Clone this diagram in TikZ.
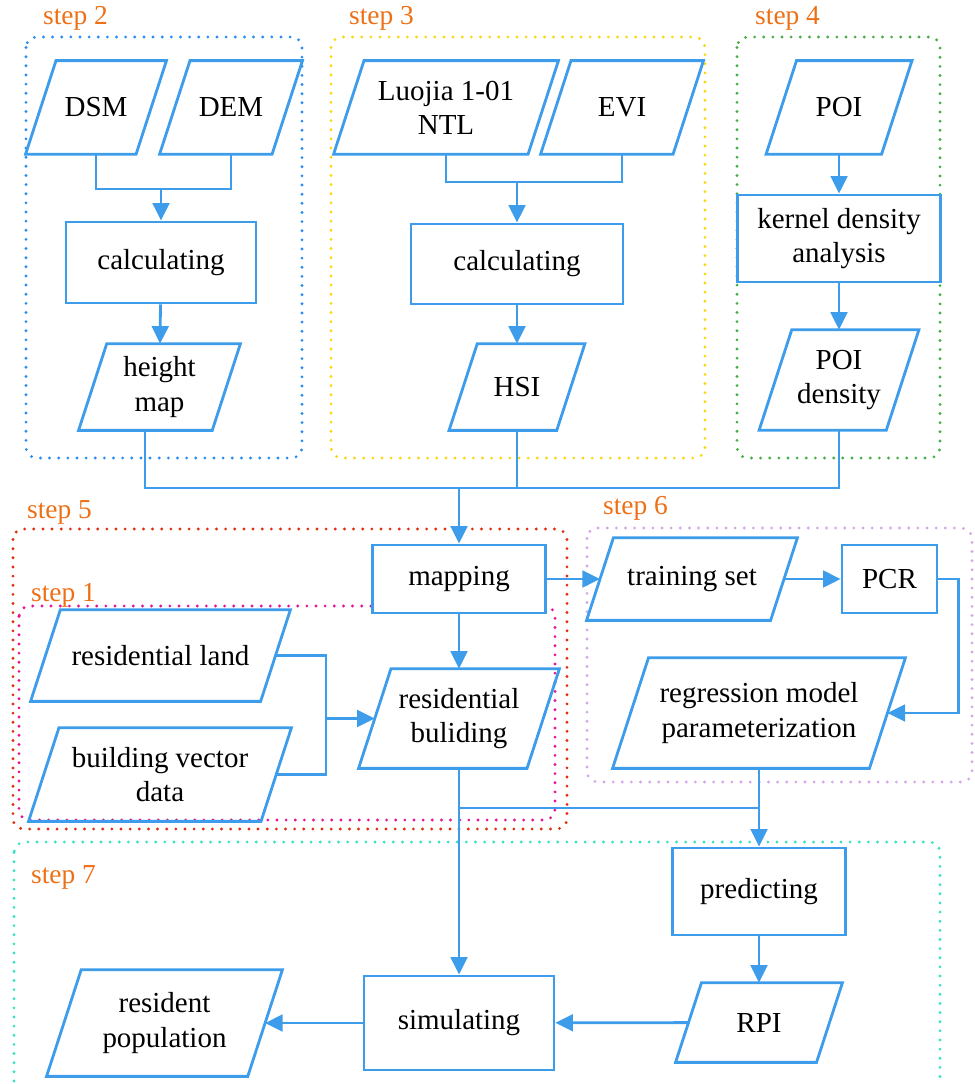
\documentclass[tikz,border=0pt]{standalone}
\usepackage{fontspec}
\setmainfont{Liberation Serif}
\usetikzlibrary{arrows.meta,calc,backgrounds}

\definecolor{flowblue}{RGB}{62,157,235}
\definecolor{steporange}{RGB}{238,112,22}
\definecolor{boxblue}{RGB}{40,140,240}
\definecolor{boxyellow}{RGB}{250,215,20}
\definecolor{boxgreen}{RGB}{70,175,70}
\definecolor{boxred}{RGB}{225,45,10}
\definecolor{boxmagenta}{RGB}{230,20,150}
\definecolor{boxlilac}{RGB}{215,165,235}
\definecolor{boxteal}{RGB}{60,225,195}

\begin{document}
\begin{tikzpicture}[x=0.02cm, y=-0.02cm,
          every node/.style={font=\fontsize{16.5}{19.5}\selectfont, align=center},
          proc/.style={draw=flowblue, fill=white, line width=1.6pt, rectangle, inner sep=2pt},
          data/.style={rectangle, inner sep=2pt},
          databorder/.style={draw=flowblue, line width=1.6pt},
          line/.style={draw=flowblue, line width=1.6pt},
          arrow/.style={line, -{Triangle[length=10pt, width=9.5pt]}},
          stepbox/.style={line width=1.8pt, line cap=round,
            dash pattern=on 0pt off 5.2pt, rounded corners=6pt},
          steplabel/.style={anchor=west, text=steporange,
            font=\fontsize{15.6}{18}\selectfont}
        ]
        \useasboundingbox (0,0) rectangle (974,1084);

        % Step labels
        \node[steplabel] (lbl2) at (37,18) {step 2};
        \node[steplabel] (lbl3) at (343,18) {step 3};
        \node[steplabel] (lbl4) at (749,18) {step 4};
        \node[steplabel] (lbl5) at (21,512) {step 5};
        \node[steplabel] (lbl1) at (25,595) {step 1};
        \node[steplabel] (lbl6) at (597,508) {step 6};
        \node[steplabel] (lbl7) at (25,877) {step 7};

        % Step 2
        \node[data, minimum width=2.196cm, minimum height=1.86cm] (dsm) at (96,107.5) {DSM};
        \node[data, minimum width=2.236cm, minimum height=1.86cm] (dem) at (231,107.5) {DEM};
        \node[proc, minimum width=3.8cm, minimum height=1.62cm] (calcA) at (161,262.5) {calculating};
        \node[data, minimum width=2.66cm, minimum height=1.72cm] (hmap) at (159.5,387) {height\\map};

        % Step 3
        \node[data, minimum width=3.876cm, minimum height=1.86cm] (ntl) at (446,107.5) {Luojia 1-01\\NTL};
        \node[data, minimum width=2.636cm, minimum height=1.86cm] (evi) at (622,107.5) {EVI};
        \node[proc, minimum width=4.24cm, minimum height=1.6cm] (calcB) at (517,264) {calculating};
        \node[data, minimum width=2.14cm, minimum height=1.72cm] (hsi) at (517,387) {HSI};

        % Step 4
        \node[data, minimum width=2.296cm, minimum height=1.86cm] (poi) at (839,107.5) {POI};
        \node[proc, minimum width=4.06cm, minimum height=1.74cm] (kda) at (839,238.5) {kernel density\\analysis};
        \node[data, minimum width=2.53cm, minimum height=2cm] (pden) at (839,380) {POI\\density};

        % Step 5 and step 1
        \node[proc, minimum width=3.46cm, minimum height=1.36cm] (mapping) at (459,579) {mapping};
        \node[data, minimum width=4.588cm, minimum height=1.82cm] (rland) at (160.5,655.5) {residential land};
        \node[data, minimum width=4.636cm, minimum height=1.86cm] (bvec) at (160,774.5) {building vector\\data};
        \node[data, minimum width=3.356cm, minimum height=1.98cm] (resb) at (459,718.5) {residential\\buliding};

        % Step 6
        \node[data, minimum width=3.667cm, minimum height=1.64cm] (train) at (692,579) {training set};
        \node[proc, minimum width=1.9cm, minimum height=1.36cm] (pcr) at (889.5,579) {PCR};
        \node[data, minimum width=5.125cm, minimum height=2.2cm] (regr) at (759,713) {regression model\\parameterization};

        % Step 7
        \node[proc, minimum width=3.46cm, minimum height=1.74cm] (pred) at (759,891.5) {predicting};
        \node[data, minimum width=2.806cm, minimum height=1.58cm] (rpi) at (759,1022.5) {RPI};
        \node[proc, minimum width=3.8cm, minimum height=1.88cm] (sim) at (459,1023) {simulating};
        \node[data, minimum width=4.011cm, minimum height=2.12cm] (rpop) at (164.5,1023) {resident\\population};

        % Junctions
        \coordinate (jA) at (161,189);
        \coordinate (jB) at (517,182);
        \coordinate (busL) at (145,488);
        \coordinate (busR) at (839,488);
        \coordinate (bus) at (459,488);
        \coordinate (jR) at (326,718.5);
        \coordinate (jS) at (459,808);
        \coordinate (jP) at (759,808);

        % Connectors, steps 2 to 4
        \draw[line] (dsm) |- (jA) -| (dem);
        \draw[arrow] (jA) -- (calcA);
        \draw[arrow] (calcA) -- (hmap);
        \draw[line] (ntl) |- (jB) -| (evi);
        \draw[arrow] (jB) -- (calcB);
        \draw[arrow] (calcB) -- (hsi);
        \draw[arrow] (poi) -- (kda);
        \draw[arrow] (kda) -- (pden);
        \draw[line] (hmap.south -| busL) -- (busL) -- (busR) -- (pden);
        \draw[line] (hsi) -- (hsi |- bus);
        \draw[arrow] (bus) -- (mapping);

        % Connectors, steps 1, 5 and 6
        \draw[arrow] (mapping) -- (resb);
        \draw[line] (rland.east) -| (jR);
        \draw[line] (bvec.east) -| (jR);
        \draw[arrow] (jR) -- (resb);
        \draw[arrow] (mapping) -- (train);
        \draw[arrow] (train) -- (pcr);
        \draw[arrow] (pcr.east) -- ++(20,0) |- (regr);

        % Connectors, step 7
        \draw[line] (jS) -- (jP);
        \draw[line] (regr) -- (jP);
        \draw[arrow] (jP) -- (pred);
        \draw[arrow] (pred) -- (rpi);
        \draw[arrow] (resb) -- (sim);
        \draw[arrow] (rpi) -- (sim);
        \draw[arrow] (sim) -- (rpop);

        % Slanted borders of the data nodes
        \foreach \n in {dsm,dem,hmap,ntl,evi,hsi,poi,pden,rland,bvec,resb,train,regr,rpi,rpop}
          \draw[databorder]
            ($(\n.south west)!0.1625!90:(\n.north west)$) --
            ($(\n.north west)!0.1625!90:(\n.south west)$) --
            ($(\n.north east)!0.1625!90:(\n.south east)$) --
            ($(\n.south east)!0.1625!90:(\n.north east)$) -- cycle;

        \begin{scope}[on background layer]
          % Dotted step frames
          \draw[stepbox, boxblue] (26,37) rectangle (302,458);
          \draw[stepbox, boxyellow] (331,37) rectangle (705,458);
          \draw[stepbox, boxgreen] (737,37) rectangle (940,458);
          \draw[stepbox, boxred] (13,529) rectangle (567,829);
          \draw[stepbox, boxmagenta] (19,606) rectangle (555,820);
          \draw[stepbox, boxlilac] (587,528) rectangle (972,782);
          \draw[stepbox, boxteal] (14,842) rectangle (940,1100);
        \end{scope}

      \end{tikzpicture}
\end{document}
